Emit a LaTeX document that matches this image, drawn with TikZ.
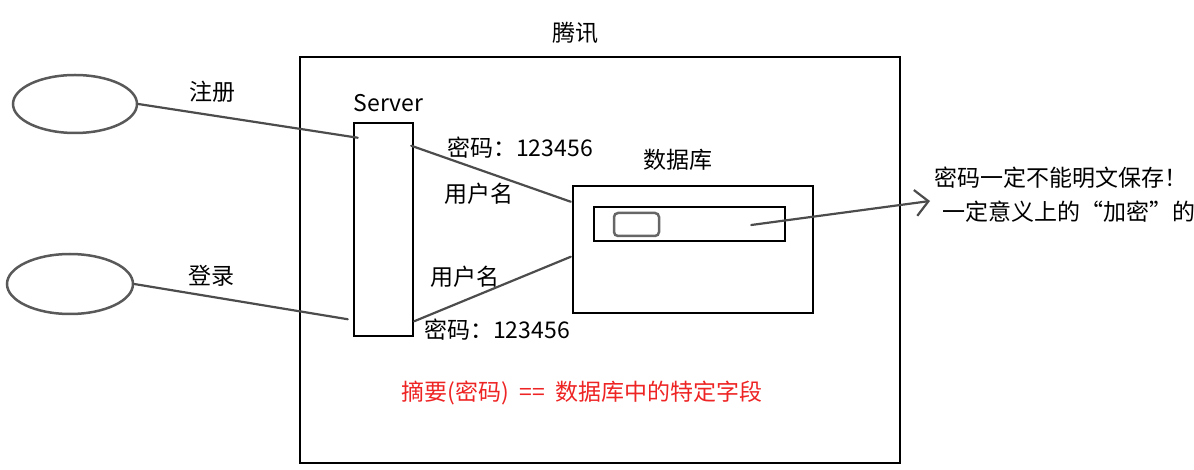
\documentclass[tikz,border=0pt]{standalone}
\usepackage{fontspec}
\setmainfont{Noto Sans CJK SC}
\usetikzlibrary{shapes.geometric, arrows.meta, positioning, calc}
\definecolor{digestred}{RGB}{238,36,36}
\tikzstyle{box} = [draw, rectangle, line width=2.5pt, inner sep=0pt]
\tikzstyle{user} = [draw=black!65, ellipse, line width=2.5pt, inner sep=0pt]
\tikzstyle{field} = [draw=black!60, rectangle, rounded corners=4pt, line width=2.5pt, inner sep=0pt]
\tikzstyle{txt} = [inner sep=0pt, font=\fontsize{23}{27}\selectfont]
\tikzstyle{wire} = [line width=2.2pt, black!70, line cap=round]
\tikzstyle{arrow} = [wire, -{Straight Barb[length=13pt, width=26pt, line width=2.2pt]}]

\begin{document}
\begin{tikzpicture}[x=1pt, y=-1pt]
            \useasboundingbox (0,0) rectangle (1194,470);
            % Boxes
                  \node (TencentBox) [box, minimum width=600pt, minimum height=406pt] at (600,260) {};
                  \node (ServerBox) [box, minimum width=59pt, minimum height=213pt] at (383.5,229.5) {};
                  \node (DatabaseBox) [box, minimum width=240pt, minimum height=127pt] at (693,249.5) {};
                  \node (RecordRow) [box, minimum width=191pt, minimum height=34pt] at (689.5,224) {};
                  \node (HashField) [field, minimum width=45pt, minimum height=23pt] at (636.5,224.5) {};

                  % Users
                  \node (RegisterUser) [user, minimum width=124pt, minimum height=58pt] at (75,104) {};
                  \node (LoginUser) [user, minimum width=126pt, minimum height=60pt] at (70,284) {};

                  % Labels
                  \node (TencentLabel) [txt] at (575,33) {腾讯};
                  \node (ServerLabel) [txt, above=10pt of ServerBox.north, xshift=5pt] {Server};
                  \node (DatabaseLabel) [txt] at (678,160) {数据库};
                  \node (RegisterLabel) [txt] at (212,92) {注册};
                  \node (LoginLabel) [txt] at (211,276) {登录};
                  \node (PwdUp) [txt] at (520,148) {密码：123456};
                  \node (NameUp) [txt] at (479,194) {用户名};
                  \node (NameDown) [txt] at (465,277) {用户名};
                  \node (PwdDown) [txt] at (497,330) {密码：123456};
                  \node (NoteOne) [txt, anchor=west] at (934,178) {密码一定不能明文保存！};
                  \node (NoteTwo) [txt, anchor=west] at (942,212) {一定意义上的“加密”的};
                  \node (DigestNote) [txt, text=digestred] at (582,393) {摘要(密码)\hspace{10pt}==\hspace{10pt}数据库中的特定字段};

            % Connector ends
            \coordinate (RegIn) at ($(ServerBox.north west)+(5,16)$);
            \coordinate (LoginIn) at ($(ServerBox.south west)+(-5,-18)$);
            \coordinate (SrvOutUp) at ($(ServerBox.north east)+(-3,24)$);
            \coordinate (SrvOutDown) at ($(ServerBox.south east)+(0,-16)$);
            \coordinate (DbInUp) at ($(DatabaseBox.north west)+(-1,17)$);
            \coordinate (DbInDown) at ($(DatabaseBox.north west)+(-1,72)$);
            \coordinate (HashOut) at ($(RecordRow.east)+(-35,1)$);
            \coordinate (NoteTip) at ($(NoteOne.west)+(-4,23)$);

            % Connectors
            \draw [wire] (RegisterUser.east) -- (RegIn);
            \draw [wire] (LoginUser.east) -- (LoginIn);
            \draw [wire] (SrvOutUp) -- (DbInUp);
            \draw [wire] (SrvOutDown) -- (DbInDown);
            \draw [arrow] (HashOut) -- (NoteTip);
        \end{tikzpicture}
\end{document}
